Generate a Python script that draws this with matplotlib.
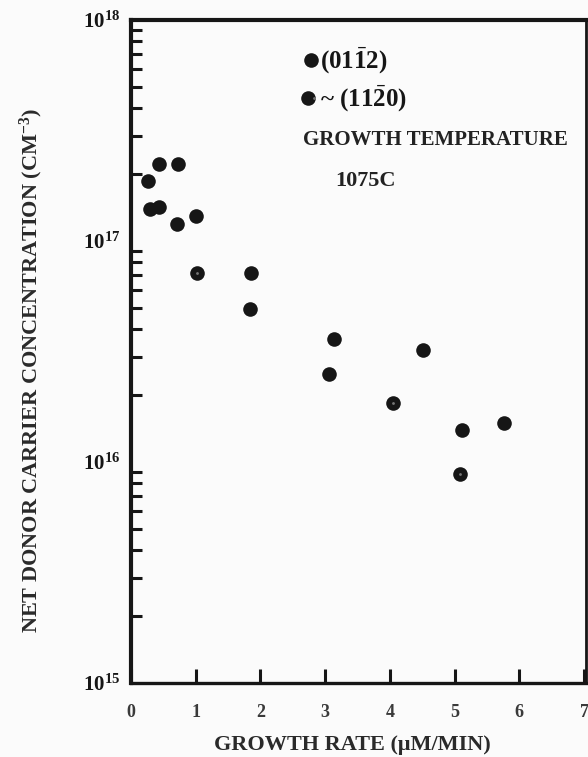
import numpy as np
import matplotlib
matplotlib.use('Agg')
import matplotlib.pyplot as plt
from matplotlib.ticker import LogLocator, FixedLocator, NullFormatter
from matplotlib.lines import Line2D
from matplotlib.legend_handler import HandlerTuple

# growth rate (um/min) vs net donor carrier concentration (cm^-3)
rate_0112 = [0.43, 0.73, 0.26, 0.29, 0.43, 0.71, 1.00, 1.85, 1.84, 3.14, 3.06, 4.51, 5.12, 5.76]
conc_0112 = [2.23e17, 2.23e17, 1.87e17, 1.40e17, 1.43e17, 1.19e17, 1.30e17,
             7.2e16, 4.9e16, 3.6e16, 2.5e16, 3.2e16, 1.40e16, 1.50e16]
rate_1120 = [1.02, 4.05, 5.08]
conc_1120 = [7.2e16, 1.85e16, 8.8e15]

x_ticks = [0, 1, 2, 3, 4, 5, 6, 7]
y_decades = [1e15, 1e16, 1e17, 1e18]
y_labels = [r'$\mathbf{10^{15}}$', r'$\mathbf{10^{16}}$', r'$\mathbf{10^{17}}$', r'$\mathbf{10^{18}}$']

ink = '#161616'
plt.rcParams['font.family'] = ['Liberation Serif', 'DejaVu Serif']
plt.rcParams['font.weight'] = 'bold'
plt.rcParams['axes.labelweight'] = 'bold'
plt.rcParams['mathtext.fontset'] = 'custom'
plt.rcParams['mathtext.rm'] = 'Liberation Serif:bold'
plt.rcParams['mathtext.bf'] = 'Liberation Serif:bold'
plt.rcParams['mathtext.it'] = 'Liberation Serif:bold'

fig = plt.figure(figsize=(5.88, 7.57), dpi=100, facecolor='#fbfbfb')
ax = fig.add_axes([131/588, 1 - 683/757, 455/588, 663/757])
ax.set_facecolor('#fbfbfb')

ax.plot(rate_0112, conc_0112, 'o', color=ink, markersize=10.5, markeredgewidth=0)
ax.plot(rate_1120, conc_1120, 'o', color=ink, markersize=10.5, markeredgewidth=0)
ax.plot(rate_1120, conc_1120, 'o', color='#777777', markersize=2, markeredgewidth=0)

ax.set_yscale('log')
ax.set_xlim(0, 7.03)
ax.set_ylim(1e15, 1e18)

ax.xaxis.set_major_locator(FixedLocator(x_ticks))
ax.set_xticklabels([str(t) for t in x_ticks], fontsize=13, color='#3a3a3a')
ax.tick_params(axis='x', direction='in', length=10, width=2.2, colors=ink, pad=15,
               top=False, labelcolor='#3a3a3a')

ax.yaxis.set_major_locator(FixedLocator(y_decades))
ax.set_yticklabels(y_labels, fontsize=15)
ax.yaxis.set_minor_locator(LogLocator(base=10, subs=np.arange(2, 10)))
ax.yaxis.set_minor_formatter(NullFormatter())
ax.tick_params(axis='y', which='both', direction='in', length=8, width=2.2,
               colors=ink, right=False, pad=8)
ax.tick_params(axis='y', which='major', length=0)

for side in ['left', 'top']:
    ax.spines[side].set_linewidth(3)
ax.spines['bottom'].set_linewidth(2.4)
ax.spines['right'].set_linewidth(2)
for s in ax.spines.values():
    s.set_color(ink)

ax.set_xlabel('GROWTH RATE (\u03bcM/MIN)', fontsize=16, color='#2a2a2a')
ax.xaxis.label.set_va('center')
ax.xaxis.set_label_coords(0.487, -0.0935)
ax.set_ylabel('NET DONOR CARRIER CONCENTRATION (CM$^{\\mathbf{-3}}$)', fontsize=16,
              color='#2a2a2a')
ax.yaxis.label.set_va('center')
ax.yaxis.set_label_coords(-0.218, 0.472)

h1 = Line2D([], [], marker='o', linestyle='none', color=ink, markersize=10.5, markeredgewidth=0)
h2a = Line2D([], [], marker='o', linestyle='none', color=ink, markersize=10.5, markeredgewidth=0)
h2b = Line2D([], [], marker='o', linestyle='none', color='#777777', markersize=2, markeredgewidth=0)
leg = ax.legend([h1, (h2a, h2b)], [r'(01$\mathbf{\bar{1}}$2)', r'~ (11$\mathbf{\bar{2}}$0)'],
                handler_map={tuple: HandlerTuple(ndivide=None, pad=0)},
                loc='upper left', bbox_to_anchor=(0.333, 0.995), frameon=False,
                handlelength=0.5, handletextpad=0.1, labelspacing=0.3,
                prop={'family': 'Liberation Serif', 'weight': 'bold', 'size': 18})
for t in leg.get_texts():
    t.set_color(ink)

ax.text(0.379, 0.819, 'GROWTH TEMPERATURE', transform=ax.transAxes, fontsize=15,
        color='#222222', va='center', ha='left')
ax.text(0.448, 0.757, '1075C', transform=ax.transAxes, fontsize=16,
        color='#222222', va='center', ha='left')

fig.savefig('out.png', dpi=100, facecolor=fig.get_facecolor())
